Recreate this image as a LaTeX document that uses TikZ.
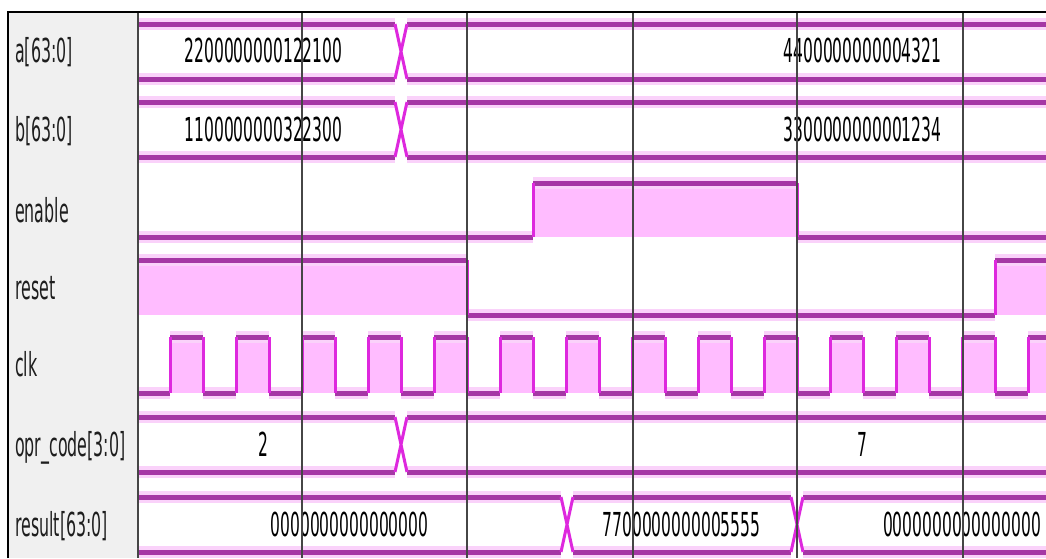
\documentclass[tikz,border=0pt]{standalone}
\usepackage{fontspec}
\newfontfamily\wf[FakeStretch=0.47]{DejaVu Sans}
\newfontfamily\lf[FakeStretch=0.48]{DejaVu Sans}
\definecolor{wv}{RGB}{165,55,165}
\definecolor{wedge}{RGB}{222,40,222}
\definecolor{glow}{RGB}{250,210,250}
\definecolor{hi}{RGB}{255,188,255}
\definecolor{panel}{RGB}{240,240,240}
\definecolor{gridc}{RGB}{70,70,70}
\definecolor{lblc}{RGB}{30,30,30}
\tikzset{
  halo/.style={line width=12pt, draw=glow},
  rail/.style={line width=5pt, draw=wv},
  edgeline/.style={line width=3pt, draw=wedge},
  val/.style={font=\wf\fontsize{33}{33}\selectfont, anchor=base, inner sep=0pt, text=black},
  lbl/.style={font=\lf\fontsize{33}{33}\selectfont, anchor=base west, inner sep=0pt, text=lblc},
  gridl/.style={line width=1.2pt, draw=gridc},
}
\begin{document}
\begin{tikzpicture}[x=1pt,y=-1pt]
\useasboundingbox (0,0) rectangle (1046,558);
\fill[white] (0,0) rectangle (1046,558);
\begin{scope}
  \clip (138,12) rectangle (1046,558);
  % high fills
  \fill[hi] (533,183) rectangle (797,237);
  \fill[hi] (138,260) rectangle (467,315);
  \fill[hi] (995,260) rectangle (1046,315);
  \foreach \k in {0,...,13}{
    \pgfmathsetmacro\rx{170+66*\k}
    \pgfmathsetmacro\fx{\rx+33}
    \fill[hi] (\rx,337) rectangle (\fx,393);
  }
  % horizontal rails
  \foreach \sty in {halo,rail}{
    \draw[\sty] (130,24) -- (395,24) (407,24) -- (1050,24) (130,79) -- (395,79) (407,79) -- (1050,79);
    \draw[\sty] (130,102) -- (395,102) (407,102) -- (1050,102) (130,157) -- (395,157) (407,157) -- (1050,157);
    \draw[\sty] (130,237) -- (533,237) (533,183) -- (797,183) (797,237) -- (1050,237);
    \draw[\sty] (130,260) -- (467,260) (467,315) -- (995,315) (995,260) -- (1050,260);
    \draw[\sty] (130,393) -- (170,393);
    \foreach \k in {0,...,13}{
      \pgfmathsetmacro\rx{170+66*\k}
      \pgfmathsetmacro\fx{\rx+33}
      \pgfmathsetmacro\nx{\rx+66}
      \draw[\sty] (\rx,337) -- (\fx,337) (\fx,393) -- (\nx,393);
    }
    \draw[\sty] (130,417) -- (395,417) (407,417) -- (1050,417) (130,472) -- (395,472) (407,472) -- (1050,472);
    \draw[\sty] (130,497) -- (561,497) (573,497) -- (791,497) (803,497) -- (1050,497)
                (130,552) -- (561,552) (573,552) -- (791,552) (803,552) -- (1050,552);
  }
  % edges and transitions
  \draw[edgeline] (533,183) -- (533,237) (797,183) -- (797,237);
  \draw[edgeline] (467,260) -- (467,315) (995,260) -- (995,315);
  \foreach \k in {0,...,13}{
    \pgfmathsetmacro\rx{170+66*\k}
    \pgfmathsetmacro\fx{\rx+33}
    \draw[edgeline] (\rx,337) -- (\rx,393) (\fx,337) -- (\fx,393);
  }
  \draw[edgeline] (395,24) -- (407,79) (395,79) -- (407,24);
  \draw[edgeline] (395,102) -- (407,157) (395,157) -- (407,102);
  \draw[edgeline] (395,417) -- (407,472) (395,472) -- (407,417);
  \draw[edgeline] (561,497) -- (573,552) (561,552) -- (573,497);
  \draw[edgeline] (791,497) -- (803,552) (791,552) -- (803,497);
\end{scope}
% values
\node[val] (va1) at (263.5,62) {2200000000122100};
\node[val] (vb1) at (263.5,141) {1100000000322300};
\node[val] (va2) at (862.5,62) {4400000000004321};
\node[val] (vb2) at (862.5,141) {3300000000001234};
\node[val] (vo1) at (263,456) {2};
\node[val] (vo2) at (862,456) {7};
\node[val] (vr1) at (349.5,536) {0000000000000000};
\node[val] (vr2) at (681.5,536) {7700000000005555};
\node[val] (vr3) at (962,536) {0000000000000000};
% gridlines
\foreach \g in {302,467,633,797,963}{
  \draw[gridl] (\g,13) -- (\g,558);
}
% label panel
\fill[panel] (8,12) rectangle (138,558);
\node[lbl] (la) at (15,62) {a[63:0]};
\node[lbl] (lb) at (15,141) {b[63:0]};
\node[lbl] (le) at (15,222) {enable};
\node[lbl] (lr) at (15,299) {reset};
\node[lbl] (lc) at (15,376) {clk};
\node[lbl] (lo) at (15,456) {opr\_code[3:0]};
\node[lbl] (lres) at (15,536) {result[63:0]};
\draw[line width=1.5pt, draw=gridc] (138,12) -- (138,558);
\draw[line width=2.5pt] (8,558) -- (8,12) -- (1046,12);
\end{tikzpicture}
\end{document}
